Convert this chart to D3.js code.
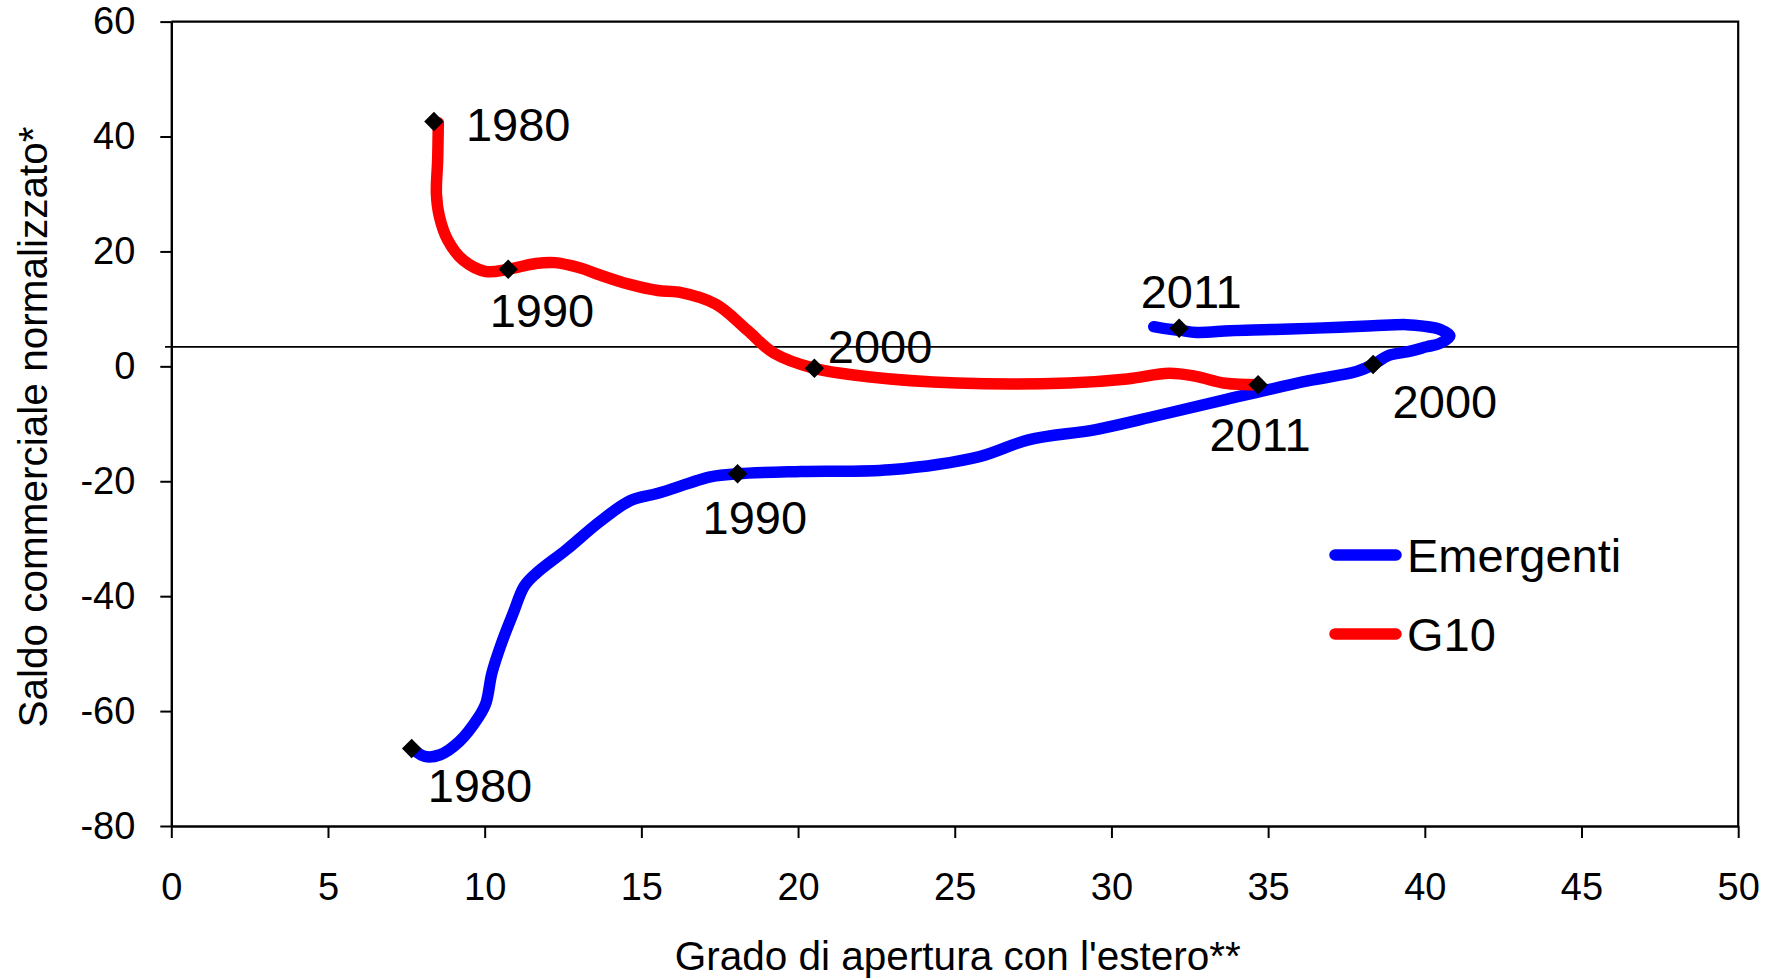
<!DOCTYPE html>
<html>
<head>
<meta charset="utf-8">
<script src="https://cdn.jsdelivr.net/npm/d3@7"></script>
<style>
  html, body { margin: 0; padding: 0; background: #fff; }
  svg { display: block; }
  text { font-family: "Liberation Sans", Arial, Helvetica, sans-serif; fill: #000; }
</style>
</head>
<body>
<svg id="chart" width="1779" height="980"></svg>
<script>
// Trade openness (x) vs normalised trade balance (y), 1980-2011

const seriesNames = ["Emergenti", "G10"];

const emergentiX = [7.75, 8.09, 8.58, 9.19, 9.80, 10.04, 10.23, 10.53, 10.90, 11.26, 11.63, 12.61,
  13.68, 14.67, 15.53, 17.24, 18.07, 20.09, 22.93, 25.79, 27.35, 29.50, 31.45, 33.70, 36.30,
  37.82, 38.35, 38.85, 39.42, 40.06, 40.48, 40.80, 40.50, 39.95, 39.42, 38.35, 37.29, 35.70,
  34.85, 33.78, 32.72, 32.16, 31.66, 31.35];
const emergentiY = [-66.8, -67.9, -67.6, -65.3, -61.1, -58.6, -53.4, -48.3, -43.1, -38.3, -36.1, -31.9,
  -27.0, -23.3, -22.1, -19.2, -18.7, -18.3, -18.0, -15.7, -12.8, -11.0, -8.6, -5.7, -2.5,
  -0.9, 0.3, 1.9, 2.5, 3.4, 4.0, 5.3, 6.4, 7.0, 7.26, 7.06, 6.8, 6.5,
  6.37, 6.2, 5.9, 6.3, 6.6, 6.9];

const g10X = [8.52, 8.50, 8.46, 8.55, 8.82, 9.31, 10.04, 10.75, 11.63, 12.24, 13.00, 13.68,
  14.60, 15.53, 16.20, 17.38, 18.38, 19.23, 20.52, 22.23, 25.07, 28.64, 30.50, 31.84,
  32.66, 33.64, 34.68];
const g10Y = [42.4, 36.0, 30.0, 26.2, 22.0, 18.5, 16.5, 16.9, 17.9, 18.05, 17.2, 15.9,
  14.3, 13.2, 12.9, 10.8, 6.3, 2.3, -0.35, -1.8, -2.9, -2.9, -2.2, -1.2,
  -1.7, -2.95, -3.2];

// Benchmark years marked on each path
const yearLabels = ["1980", "1990", "2000", "2011"];
const emergentiYearX = [7.67, 18.07, 38.35, 32.16];
const emergentiYearY = [-66.5, -18.7, 0.3, 6.63];
const g10YearX = [8.38, 10.75, 20.52, 34.68];
const g10YearY = [42.6, 16.9, -0.35, -3.2];

const xTicks = [0, 5, 10, 15, 20, 25, 30, 35, 40, 45, 50];
const yTicks = [-80, -60, -40, -20, 0, 20, 40, 60];
const refLevel = 3.4;

const xTitle = "Grado di apertura con l'estero**";
const yTitle = "Saldo commerciale normalizzato*";

// ---- layout ----
const plot = { left: 171.3, right: 1738.2, top: 21.6, bottom: 826 };
const colors = { Emergenti: "#0000ff", G10: "#ff0000" };
const lineWidth = 11.5;
// year label offsets (px) from each marker: [dx, dy to baseline]
const labelOffsets = {
  Emergenti: [[16, 54], [-35, 60], [19.5, 53], [-38.5, -20]],
  G10: [[32, 19], [-18.5, 58], [13.5, -5], [-48.5, 66]]
};

const svg = d3.select("#chart");
const x = d3.scaleLinear().domain([0, 50]).range([plot.left, plot.right]);
const y = d3.scaleLinear().domain([-80, 60]).range([plot.bottom, plot.top]);

// axes
const gx = svg.append("g")
  .attr("transform", `translate(0,${plot.bottom})`)
  .call(d3.axisBottom(x).tickValues(xTicks).tickSize(12).tickSizeOuter(0).tickPadding(35)
    .tickFormat(d3.format("d")));
const gy = svg.append("g")
  .attr("transform", `translate(${plot.left},0)`)
  .call(d3.axisLeft(y).tickValues(yTicks).tickSize(11).tickSizeOuter(0).tickPadding(25)
    .tickFormat(d => d < 0 ? "-" + Math.abs(d) : String(d)));
[gx, gy].forEach(g => {
  g.select(".domain").attr("stroke", "#000").attr("stroke-width", 2.4);
  g.selectAll(".tick line").attr("stroke", "#000").attr("stroke-width", 2);
  g.selectAll(".tick text").attr("font-size", 38).attr("fill", "#000")
    .style("font-family", "'Liberation Sans', Arial, sans-serif");
});

// top and right frame
svg.append("path")
  .attr("d", `M${plot.left},${plot.top}H${plot.right}V${plot.bottom}`)
  .attr("fill", "none").attr("stroke", "#000").attr("stroke-width", 2.2);

// horizontal reference level
svg.append("line")
  .attr("x1", x(-0.2)).attr("x2", x(50))
  .attr("y1", y(refLevel)).attr("y2", y(refLevel))
  .attr("stroke", "#000").attr("stroke-width", 1.7);

// trajectories
const line = d3.line()
  .x(d => x(d[0])).y(d => y(d[1]))
  .curve(d3.curveCatmullRom.alpha(0.5));

const paths = {
  Emergenti: d3.zip(emergentiX, emergentiY),
  G10: d3.zip(g10X, g10Y)
};
seriesNames.forEach(name => {
  svg.append("path")
    .datum(paths[name])
    .attr("d", line)
    .attr("fill", "none")
    .attr("stroke", colors[name])
    .attr("stroke-width", lineWidth)
    .attr("stroke-linecap", "round")
    .attr("stroke-linejoin", "round");
});

// year markers and labels
const marks = {
  Emergenti: d3.zip(emergentiYearX, emergentiYearY),
  G10: d3.zip(g10YearX, g10YearY)
};
const diamond = d3.symbol().type(d3.symbolSquare).size(190);
seriesNames.forEach(name => {
  marks[name].forEach((p, i) => {
    const px = x(p[0]), py = y(p[1]);
    svg.append("path")
      .attr("d", diamond)
      .attr("transform", `translate(${px},${py}) rotate(45)`)
      .attr("fill", "#000");
    const off = labelOffsets[name][i];
    svg.append("text")
      .attr("x", px + off[0]).attr("y", py + off[1])
      .attr("font-size", 47)
      .text(yearLabels[i]);
  });
});

// legend
const legend = svg.append("g");
const legendRows = [{ name: "Emergenti", y: 555 }, { name: "G10", y: 634 }];
legendRows.forEach(r => {
  legend.append("line")
    .attr("x1", 1335).attr("x2", 1396).attr("y1", r.y).attr("y2", r.y)
    .attr("stroke", colors[r.name]).attr("stroke-width", 11.5).attr("stroke-linecap", "round");
  legend.append("text")
    .attr("x", 1407).attr("y", r.y + 17)
    .attr("font-size", 47)
    .text(r.name);
});

// axis titles
svg.append("text")
  .attr("x", (plot.left + plot.right) / 2 + 3).attr("y", 970)
  .attr("text-anchor", "middle")
  .attr("font-size", 40.5)
  .text(xTitle);
svg.append("text")
  .attr("transform", `translate(47,427) rotate(-90)`)
  .attr("text-anchor", "middle")
  .attr("font-size", 40.5)
  .text(yTitle);
</script>
</body>
</html>
